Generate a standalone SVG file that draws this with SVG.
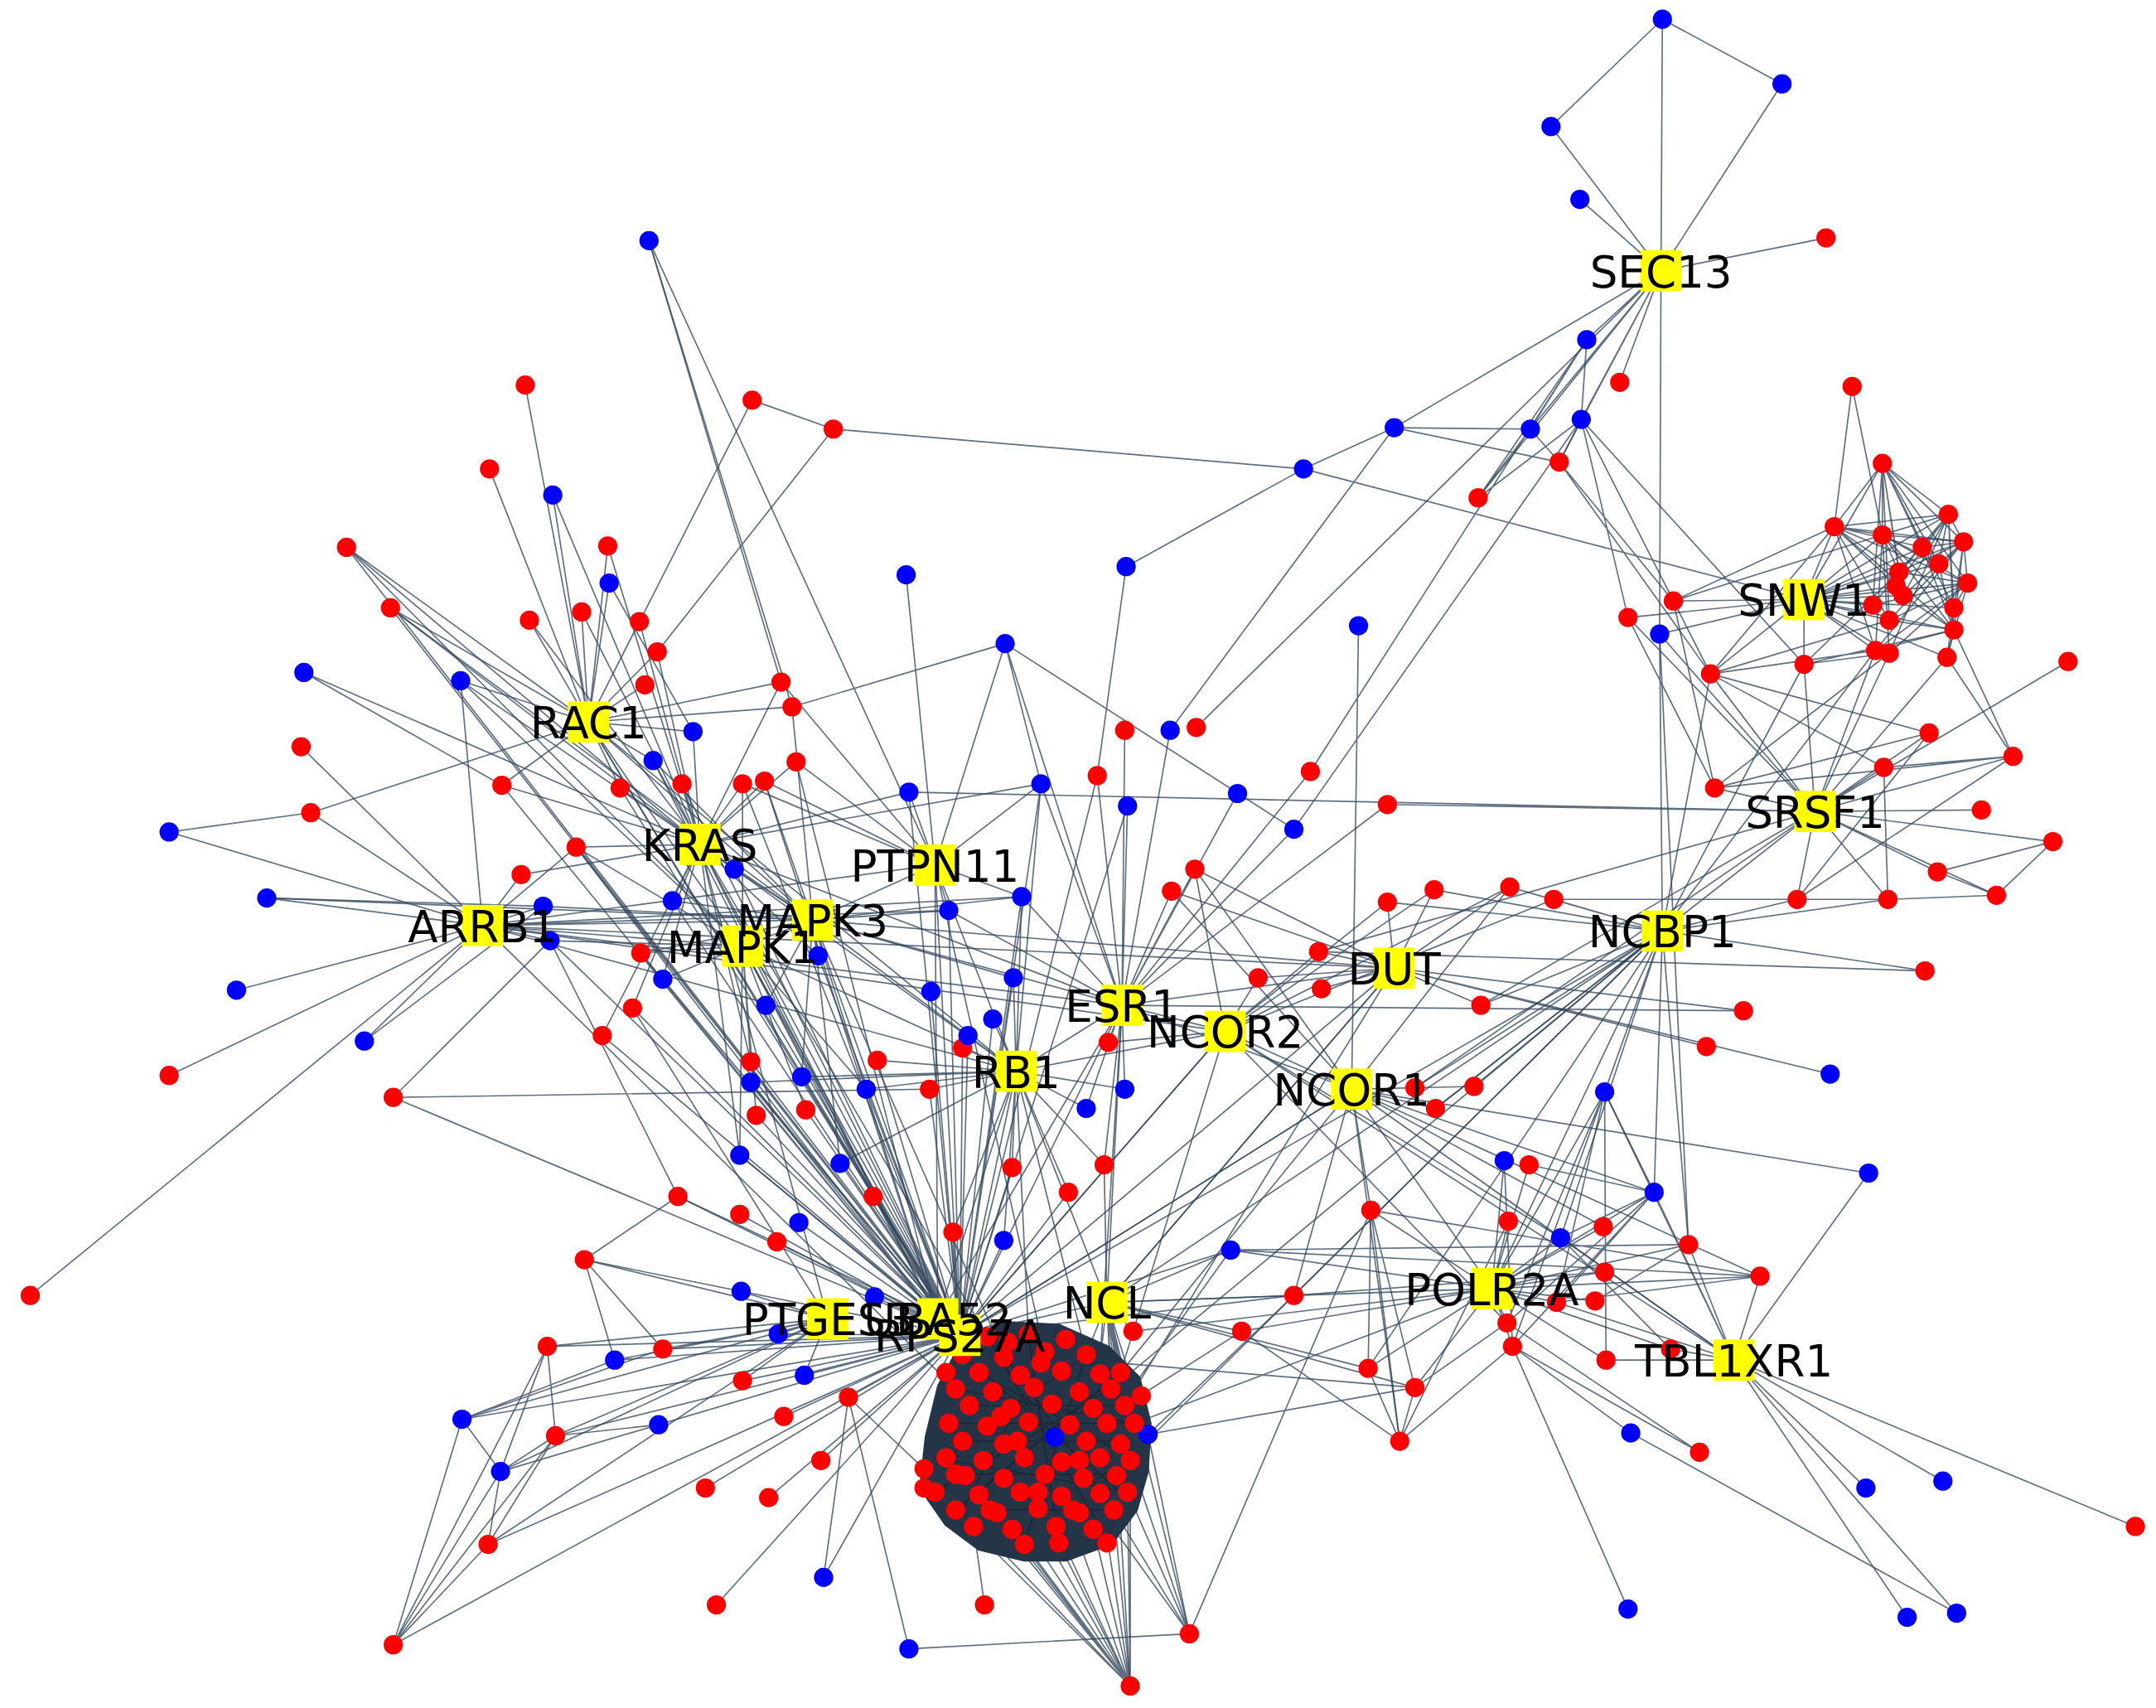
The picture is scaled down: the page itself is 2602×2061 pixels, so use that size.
<svg xmlns="http://www.w3.org/2000/svg" width="2602" height="2061" viewBox="0 0 2602 2061">
<style>
.e path{fill:none;stroke:#33475b;stroke-opacity:0.78;stroke-width:1;stroke-linejoin:round}
.r{fill:#ff0000}
.b{fill:#0000ff}
.y{fill:#ffff00}
.lb text{font-family:"DejaVu Sans","Liberation Sans",sans-serif;font-size:32px;fill:#000;text-anchor:middle}
</style>
<rect width="2602" height="2061" fill="#ffffff"/>
<g transform="scale(1.65944)">
<g id="connectors" class="e">
<path d="M1209 14L1208 197 1128 92 1208 197 1296 61 1208 197 1149 145 1208 197 1328 173 1208 197 1154 247 1208 197 1178 278 1208 197 1150 305 1208 197 1113 312 1208 197 1014 311 1208 197 1134 336 1208 197 1075 362 1208 197 1207 461 1208 197 870 529"/>
<path d="M1209 14L1128 92M1209 14L1296 61M1014 311L1113 312M1014 311L1134 336M1014 311L948 341M1014 311L851 531M1150 305L1075 362M1113 312L1075 362M1150 305L1134 336M1154 247L1150 305M1154 247L1075 362M1154 247L1113 312M1134 336L1113 312M1150 305L1184 449M1150 305L1244 490M1134 336L1217 437M1150 305L1312 483M1134 336L1244 490M1154 247L953 561M1150 305L941 603M1207 461L1228 905M948 341L606 312M948 341L819 412M948 341L1312 436M819 412L798 564M606 312L547 291M472 175L568 496M472 175L680 629M659 418L680 629M731 468L576 514M731 468L757 570M731 468L941 603M731 468L816 731M988 455L983 792M1347 281L1334 383M1347 281L1369 389"/>
<path d="M1369 337L1312 436 1334 383 1312 436 1369 389 1312 436 1417 374 1312 436 1428 394 1312 436 1381 416 1312 436 1379 426 1312 436 1384 433 1312 436 1431 424 1312 436 1421 442 1312 436 1421 458 1312 436 1374 451 1312 436 1364 473 1312 436 1374 475 1312 436 1416 478 1312 436 1398 398 1312 436 1410 410 1312 436 1362 440 1312 436 1217 437 1312 436 1184 449 1312 436 1207 461 1312 436 1244 490 1312 436 1312 483"/>
<path d="M1334 383L1369 337 1369 389 1369 337 1417 374 1369 337 1428 394 1369 337 1381 416 1369 337 1384 433 1369 337 1431 424 1369 337 1421 442 1369 337 1374 451 1369 337 1398 398 1369 337 1410 410 1369 337 1362 440"/>
<path d="M1369 389L1334 383 1417 374 1334 383 1428 394 1334 383 1381 416 1334 383 1379 426 1334 383 1431 424 1334 383 1421 458 1334 383 1374 451 1334 383 1364 473 1334 383 1398 398"/>
<path d="M1369 389L1417 374 1428 394 1417 374 1381 416 1417 374 1379 426 1417 374 1384 433 1417 374 1421 442 1417 374 1421 458 1417 374 1374 475 1417 374 1362 440 1417 374 1410 410"/>
<path d="M1369 389L1428 394 1381 416 1428 394 1384 433 1428 394 1431 424 1428 394 1421 458 1428 394 1374 451 1428 394 1364 473 1428 394 1416 478 1428 394 1398 398"/>
<path d="M1369 389L1431 424 1381 416 1431 424 1421 442 1431 424 1374 451 1431 424 1374 475 1431 424 1364 473 1431 424 1416 478 1431 424 1362 440"/>
<path d="M1369 389L1421 458 1384 433 1421 458 1374 451 1421 458 1364 473 1421 458 1416 478 1421 458 1398 398 1421 458 1410 410"/>
<path d="M1381 416L1369 389 1421 442 1369 389 1374 475 1369 389 1364 473 1369 389 1410 410"/>
<path d="M1217 437L1369 389M1217 437L1334 383M1244 490L1364 473M1244 490L1374 451M1244 490L1334 383M1312 483L1374 475M1312 483L1421 458M1312 483L1381 416M1421 458L1464 550M1416 478L1464 550M1184 449L1320 590M1207 461L1320 590M1217 437L1247 573M1244 490L1403 533M1244 490L1370 558M1374 475L1247 573M1184 449L1247 573M1207 461L1209 677"/>
<path d="M1504 481L1320 590 1403 533 1320 590 1464 550 1320 590 1370 558 1320 590 1247 573 1320 590 1441 589 1320 590 1493 612 1320 590 1409 634 1320 590 1452 651 1320 590 1373 654 1320 590 1307 654 1320 590 1244 490 1320 590 1312 483 1320 590 1364 473 1320 590 1374 475 1320 590 1416 478 1320 590 1009 585 1320 590 661 576 1320 590 1077 731 1320 590 1044 806 1320 590 959 692 1320 590 1209 677 1320 590 1029 791"/>
<path d="M1403 533L1247 573M1464 550L1370 558M1493 612L1409 634M1452 651L1409 634M1493 612L1452 651M1373 654L1452 651M1307 654L1373 654M1307 654L1130 654M1464 550L1307 654M1403 533L1307 654M1370 558L1373 654M1464 550L1247 573M1400 706L959 692"/>
<path d="M1307 654L1209 677 1373 654 1209 677 1400 706 1209 677 1130 654 1209 677 1098 645 1209 677 1167 794 1209 677 1077 731 1209 677 1044 806 1209 677 1029 791 1209 677 1072 790 1209 677 1228 905 1209 677 941 942 1209 677 995 995 1209 677 1009 656 1209 677 1043 647 1209 677 1364 473 1209 677 1312 483 1209 677 1244 490 1209 677 805 947 1209 677 1135 900 1209 677 1203 867"/>
<path d="M959 692L1014 704 915 711 1014 704 961 719 1014 704 1043 647 1014 704 1009 656 1014 704 1268 735 1014 704 1241 761 1014 704 1331 781 1014 704 1077 731 1014 704 869 632 1014 704 852 648 1014 704 1098 645 1014 704 816 731 1014 704 805 947 1014 704 698 971 1014 704 351 673"/>
<path d="M1029 791L983 792 1044 806 983 792 1072 790 983 792 997 880 983 792 1359 853 983 792 1280 928 983 792 1203 867 983 792 1135 900 983 792 1166 892 983 792 1018 1048 983 792 941 942 983 792 869 632 983 792 852 648 983 792 816 731 983 792 891 750 983 792 1261 989 983 792 698 971 983 792 1098 645"/>
<path d="M915 711L891 750 959 692 891 750 1009 656 891 750 1043 647 891 750 1098 645 891 750 1261 989 891 750 1135 900 891 750 1096 962 891 750 806 758 891 750 816 731 891 750 739 779 891 750 698 971 891 750 869 632 891 750 1130 654 891 750 351 673"/>
<path d="M757 570L816 731 820 586 816 731 851 531 816 731 818 531 816 731 798 564 816 731 869 632 816 731 852 648 816 731 806 758 816 731 818 792 816 731 790 806 816 731 803 847 816 731 739 779 816 731 900 577 816 731 941 603 816 731 953 561 816 731 351 673 816 731 591 669 816 731 509 614 816 731 698 971 816 731 805 947 816 731 743 652 816 731 690 662 816 731 1009 585 816 731 1268 735"/>
<path d="M700 762L739 779 704 753 739 779 722 741 739 779 676 792 739 779 638 771 739 779 736 849 739 779 777 867 739 779 730 902 739 779 693 896 739 779 743 652 739 779 737 711 739 779 757 570 739 779 509 614 739 779 591 669 739 779 540 688 739 779 680 629 739 779 630 792 739 779 611 846 739 779 805 947 739 779 698 971 739 779 583 783 739 779 546 787 739 779 351 673 739 779 818 792 739 779 803 847 739 779 790 806 739 779 428 525"/>
<path d="M1094 844L1085 937 1112 847 1085 937 1097 888 1085 937 1135 900 1085 937 1166 892 1085 937 1167 925 1085 937 1132 947 1085 937 1160 946 1085 937 1096 962 1085 937 1100 979 1085 937 1168 989 1085 937 1215 981 1085 937 1203 867 1085 937 997 880 1085 937 1029 1009 1085 937 995 995 1085 937 941 942 1085 937 895 909 1085 937 1280 928 1085 937 1228 905 1085 937 1167 794 1085 937 1209 677 1085 937 805 947 1085 937 983 792"/>
<path d="M1167 794L1132 947M1167 794L1096 962M1167 794L1203 867M1167 794L1168 989M1167 794L1100 979M1203 867L1100 979M1203 867L1135 900M1203 867L1132 947M1203 867L1096 962M997 880L1018 1048M997 880L995 995M997 880L1029 1009M995 995L1018 1048M1029 1009L1018 1048M1097 888L1018 1048M1100 979L1018 1048M1096 962L1029 1009M997 880L1280 928M895 909L1280 928M895 909L1228 905M941 942L1167 925M1112 847L1203 867M1094 844L1100 979M1132 947L1280 928M1135 900L1215 981M1160 946L1228 905M1100 979L1184 1170M1100 979L1236 1056M1100 979L1186 1042M1186 1042L1423 1173M1096 962L1236 1056"/>
<path d="M1357 1082L1261 989 1413 1077 1261 989 1553 1110 1261 989 1387 1176 1261 989 1423 1173 1261 989 1228 905 1261 989 1203 867 1261 989 1280 928 1261 989 1168 989 1261 989 1132 947 1261 989 1215 981 1261 989 1135 900 1261 989 1359 853 1261 989 1167 794"/>
<path d="M824 968L805 947 903 968 805 947 941 942 805 947 895 909 805 947 865 1188 805 947 835 1043 805 947 822 1226 805 947 1029 1009 805 947 995 995 805 947 803 847 805 947 815 998 805 947 818 1022 805 947 825 1035 805 947 808 1010 805 947 800 990 805 947 790 985 805 947 822 1060 805 947 820 1085 805 947 698 971 805 947 1014 704"/>
<path d="M903 968L1018 1048M941 942L1209 677M903 968L1085 937M865 1188L997 880M661 1199L865 1188M716 1167L708 1110M835 1043L1029 1009M835 1043L941 942M824 968L1085 937M835 1043L865 1188"/>
<path d="M425 916L698 971 398 979 698 971 447 989 698 971 482 981 698 971 336 1032 698 971 404 1044 698 971 364 1070 698 971 479 1036 698 971 540 1004 698 971 570 1030 698 971 585 1000 698 971 617 1016 698 971 597 1062 698 971 513 1082 698 971 559 1089 698 971 521 1167 698 971 599 1147 698 971 355 1123 698 971 286 1196 698 971 493 870 698 971 538 883 698 971 565 903 698 971 581 889 698 971 539 939 698 971 566 970 698 971 636 943 698 971 611 846 698 971 538 840 698 971 550 811 698 971 546 787 698 971 546 772 698 971 586 807 698 971 583 783 698 971 630 792 698 971 638 771 698 971 676 792 698 971 700 762 698 971 704 753 698 971 722 741 698 971 677 721 698 971 736 849 698 971 777 867 698 971 693 896 698 971 730 902 698 971 635 870"/>
<path d="M509 614L698 971 540 688 698 971 591 669 698 971 680 629 698 971 482 712 698 971 460 733 698 971 438 753 698 971 466 693 698 971 557 731 698 971 595 695 698 971 489 655 698 971 534 632 698 971 419 616 698 971 496 570 698 971 540 570 698 971 451 573 698 971 757 570 698 971 737 711 698 971 743 652 698 971 690 662 698 971 661 576 698 971 798 564 698 971 820 586 698 971 284 442 698 971 252 398 698 971 400 684 698 971 286 798 698 971 428 525 698 971 983 792 698 971 891 750 698 971 895 909 698 971 941 942 698 971 1209 677"/>
<path d="M509 614L682 959 540 688 682 959 591 669 682 959 680 629 682 959 546 787 682 959 538 840 682 959 493 870 682 959 466 693 682 959 419 616 682 959 475 553 682 959 556 568 682 959 579 554 682 959 365 571 682 959 816 731 682 959 739 779"/>
<path d="M425 916L602 959 398 979 602 959 447 989 602 959 336 1032 602 959 404 1044 602 959 482 981 602 959 539 939 602 959 566 970 602 959 585 1000 602 959 540 1004 602 959 509 614 602 959 460 733 602 959 364 1070 602 959 355 1123"/>
<path d="M336 1032L286 1196 364 1070 286 1196 355 1123 286 1196 398 979 286 1196 404 1044"/>
<path d="M355 1123L404 1044M355 1123L364 1070M364 1070L336 1032M364 1070L404 1044M398 979L404 1044M398 979L364 1070M425 916L482 981M425 916L493 870M425 916L447 989M661 1199L617 1016M599 1147L617 1016M672 1068L617 1016M447 989L336 1032M336 1032L482 981M404 1044L479 1036M493 870L400 684M286 798L400 684M286 798L676 792"/>
<path d="M382 280L428 525 356 341 428 525 402 360 428 525 442 397 428 525 443 424 428 525 385 451 428 525 423 445 428 525 465 452 428 525 478 474 428 525 469 498 428 525 568 496 428 525 547 291 428 525 335 495 428 525 252 398 428 525 284 442 428 525 504 532 428 525 475 553 428 525 226 591 428 525 365 571 428 525 451 573 428 525 576 514 428 525 591 669 428 525 540 688"/>
<path d="M252 398L509 614 284 442 509 614 335 495 509 614 385 451 509 614 423 445 509 614 442 397 509 614 465 452 509 614 478 474 509 614 504 532 509 614 475 553 509 614 540 570 509 614 556 568 509 614 496 570 509 614 451 573 509 614 579 554 509 614 661 576 509 614 419 616 509 614 365 571 509 614 534 632 509 614 489 655 509 614 595 695 509 614 546 772 509 614 482 712 509 614 402 360 509 614 221 489 509 614 379 636 509 614 568 496 509 614 538 840 509 614 460 733 509 614 438 753 509 614 757 570 509 614 591 669"/>
<path d="M123 605L351 673 194 653 351 673 172 720 351 673 123 782 351 673 265 757 351 673 22 942 351 673 395 659 351 673 400 684 351 673 379 636 351 673 219 543 351 673 335 495 351 673 419 616 351 673 591 669 351 673 540 688 351 673 690 662 351 673 743 652 351 673 680 629 351 673 226 591"/>
<path d="M194 653L591 669 395 659 591 669 475 553 591 669 556 568 591 669 576 514 591 669 489 655 591 669 534 632 591 669 466 693 591 669 557 731 591 669 595 695 591 669 583 783 591 669 611 846 591 669 284 442 591 669 680 629 591 669 690 662 591 669 743 652 591 669 737 711 591 669 1014 704 591 669 540 688"/>
<path d="M252 398L540 688 335 495 540 688 419 616 540 688 400 684 540 688 466 693 540 688 482 712 540 688 546 772 540 688 586 807 540 688 538 840 540 688 540 570 540 688 630 792 540 688 550 811"/>
<path d="M661 576L680 629 690 662 680 629 743 652 680 629 757 570 680 629 540 570 680 629 579 554 680 629 568 496 680 629 556 568 680 629 731 468"/>
<path d="M606 312L478 474M123 605L226 591M221 489L365 571M265 757L395 659M194 653L395 659M443 424L504 532M472 175L576 514"/>
<path d="M700 1098L822 1226 725 1098 822 1226 745 1110 822 1226 770 1122 822 1226 795 1110 822 1226 810 1098 822 1226 820 1085 822 1226 800 1085 822 1226 772 1085 822 1226 742 1085 822 1226 712 1085 822 1226 680 1085 822 1226 688 1060 822 1226 822 1060 822 1226 768 1110 822 1226 736 1110"/>
<path d="M820 1085L865 1188 800 1098 865 1188 822 1060 865 1188 810 1098"/>
<path d="M815 998L983 792M818 1022L1014 704M808 1010L1209 677M825 1035L1085 937M805 1035L895 909M822 1060L941 942M815 998L891 750M800 990L816 731M790 985L739 779M760 985L680 629M730 985L591 669M718 972L509 614M748 972L739 779M700 985L540 688M712 998L428 525M695 1010L351 673M800 990L1029 1009M818 1022L903 968M718 972L698 971M700 985L682 959"/>
</g>
<g id="cluster-core">
<polygon points="700,976 730,962 770,964 806,980 828,1002 836,1035 834,1070 826,1098 808,1122 775,1134 745,1134 712,1126 688,1108 670,1082 674,1045 683,1008" fill="#243548" stroke="#243548" stroke-width="3" stroke-linejoin="round"/>
<path d="M700 985L815 1085M718 972L800 1110M760 985L700 1098M790 985L688 1060M815 998L712 1085M808 1010L680 1085M825 1035L695 1010M822 1060L712 998M810 1098L730 985M770 1122L748 972M745 1122L790 985M695 1098L815 998M688 1035L825 1035M680 1060L820 1085M705 1022L818 1022M700 1048L815 1048M702 1072L812 1072M712 1098L810 1098" fill="none" stroke="#1a2836" stroke-width="0.9"/>
</g>
<g id="nodes">
<g id="n1"><circle class="b" cx="1209" cy="14" r="7"/></g>
<g id="n2"><circle class="b" cx="1296" cy="61" r="7"/></g>
<g id="n3"><circle class="b" cx="1128" cy="92" r="7"/></g>
<g id="n4"><circle class="b" cx="1149" cy="145" r="7"/></g>
<g id="n5"><circle class="r" cx="1328" cy="173" r="7"/></g>
<g id="n6"><circle class="b" cx="1154" cy="247" r="7"/></g>
<g id="n7"><circle class="r" cx="1178" cy="278" r="7"/></g>
<g id="n8"><circle class="r" cx="1347" cy="281" r="7"/></g>
<g id="n9"><circle class="b" cx="1014" cy="311" r="7"/></g>
<g id="n10"><circle class="b" cx="1113" cy="312" r="7"/></g>
<g id="n11"><circle class="b" cx="1150" cy="305" r="7"/></g>
<g id="n12"><circle class="r" cx="1134" cy="336" r="7"/></g>
<g id="n13"><circle class="r" cx="1075" cy="362" r="7"/></g>
<g id="n14"><circle class="b" cx="948" cy="341" r="7"/></g>
<g id="n15"><circle class="r" cx="1369" cy="337" r="7"/></g>
<g id="n16"><circle class="r" cx="1334" cy="383" r="7"/></g>
<g id="n17"><circle class="r" cx="1369" cy="389" r="7"/></g>
<g id="n18"><circle class="r" cx="1417" cy="374" r="7"/></g>
<g id="n19"><circle class="r" cx="1428" cy="394" r="7"/></g>
<g id="n20"><circle class="r" cx="1381" cy="416" r="7"/></g>
<g id="n21"><circle class="r" cx="1379" cy="426" r="7"/></g>
<g id="n22"><circle class="r" cx="1384" cy="433" r="7"/></g>
<g id="n23"><circle class="r" cx="1431" cy="424" r="7"/></g>
<g id="n24"><circle class="r" cx="1421" cy="442" r="7"/></g>
<g id="n25"><circle class="r" cx="1421" cy="458" r="7"/></g>
<g id="n26"><circle class="r" cx="1374" cy="451" r="7"/></g>
<g id="n27"><circle class="r" cx="1364" cy="473" r="7"/></g>
<g id="n28"><circle class="r" cx="1374" cy="475" r="7"/></g>
<g id="n29"><circle class="r" cx="1416" cy="478" r="7"/></g>
<g id="n30"><circle class="r" cx="1398" cy="398" r="7"/></g>
<g id="n31"><circle class="r" cx="1410" cy="410" r="7"/></g>
<g id="n32"><circle class="r" cx="1362" cy="440" r="7"/></g>
<g id="n33"><circle class="r" cx="1312" cy="483" r="7"/></g>
<g id="n34"><circle class="r" cx="1244" cy="490" r="7"/></g>
<g id="n35"><circle class="r" cx="1217" cy="437" r="7"/></g>
<g id="n36"><circle class="r" cx="1184" cy="449" r="7"/></g>
<g id="n37"><circle class="b" cx="1207" cy="461" r="7"/></g>
<g id="n38"><circle class="r" cx="1504" cy="481" r="7"/></g>
<g id="n39"><circle class="b" cx="988" cy="455" r="7"/></g>
<g id="n40"><circle class="b" cx="819" cy="412" r="7"/></g>
<g id="n41"><circle class="b" cx="731" cy="468" r="7"/></g>
<g id="n42"><circle class="b" cx="659" cy="418" r="7"/></g>
<g id="n43"><circle class="r" cx="818" cy="531" r="7"/></g>
<g id="n44"><circle class="b" cx="851" cy="531" r="7"/></g>
<g id="n45"><circle class="r" cx="870" cy="529" r="7"/></g>
<g id="n46"><circle class="r" cx="798" cy="564" r="7"/></g>
<g id="n47"><circle class="b" cx="820" cy="586" r="7"/></g>
<g id="n48"><circle class="b" cx="900" cy="577" r="7"/></g>
<g id="n49"><circle class="b" cx="941" cy="603" r="7"/></g>
<g id="n50"><circle class="r" cx="953" cy="561" r="7"/></g>
<g id="n51"><circle class="r" cx="1009" cy="585" r="7"/></g>
<g id="n52"><circle class="r" cx="1403" cy="533" r="7"/></g>
<g id="n53"><circle class="r" cx="1464" cy="550" r="7"/></g>
<g id="n54"><circle class="r" cx="1370" cy="558" r="7"/></g>
<g id="n55"><circle class="r" cx="1247" cy="573" r="7"/></g>
<g id="n56"><circle class="r" cx="1441" cy="589" r="7"/></g>
<g id="n57"><circle class="r" cx="1493" cy="612" r="7"/></g>
<g id="n58"><circle class="r" cx="1409" cy="634" r="7"/></g>
<g id="n59"><circle class="r" cx="1452" cy="651" r="7"/></g>
<g id="n60"><circle class="r" cx="1373" cy="654" r="7"/></g>
<g id="n61"><circle class="r" cx="1307" cy="654" r="7"/></g>
<g id="n62"><circle class="r" cx="1400" cy="706" r="7"/></g>
<g id="n63"><circle class="r" cx="1268" cy="735" r="7"/></g>
<g id="n64"><circle class="r" cx="1241" cy="761" r="7"/></g>
<g id="n65"><circle class="b" cx="1331" cy="781" r="7"/></g>
<g id="n66"><circle class="b" cx="1359" cy="853" r="7"/></g>
<g id="n67"><circle class="r" cx="1130" cy="654" r="7"/></g>
<g id="n68"><circle class="r" cx="1098" cy="645" r="7"/></g>
<g id="n69"><circle class="r" cx="1043" cy="647" r="7"/></g>
<g id="n70"><circle class="r" cx="1009" cy="656" r="7"/></g>
<g id="n71"><circle class="r" cx="959" cy="692" r="7"/></g>
<g id="n72"><circle class="r" cx="915" cy="711" r="7"/></g>
<g id="n73"><circle class="r" cx="961" cy="719" r="7"/></g>
<g id="n74"><circle class="r" cx="1077" cy="731" r="7"/></g>
<g id="n75"><circle class="r" cx="869" cy="632" r="7"/></g>
<g id="n76"><circle class="r" cx="852" cy="648" r="7"/></g>
<g id="n77"><circle class="r" cx="1029" cy="791" r="7"/></g>
<g id="n78"><circle class="r" cx="1044" cy="806" r="7"/></g>
<g id="n79"><circle class="r" cx="1072" cy="790" r="7"/></g>
<g id="n80"><circle class="b" cx="1167" cy="794" r="7"/></g>
<g id="n81"><circle class="r" cx="806" cy="758" r="7"/></g>
<g id="n82"><circle class="b" cx="818" cy="792" r="7"/></g>
<g id="n83"><circle class="b" cx="790" cy="806" r="7"/></g>
<g id="n84"><circle class="r" cx="803" cy="847" r="7"/></g>
<g id="n85"><circle class="b" cx="1094" cy="844" r="7"/></g>
<g id="n86"><circle class="r" cx="1112" cy="847" r="7"/></g>
<g id="n87"><circle class="b" cx="1203" cy="867" r="7"/></g>
<g id="n88"><circle class="r" cx="997" cy="880" r="7"/></g>
<g id="n89"><circle class="r" cx="1097" cy="888" r="7"/></g>
<g id="n90"><circle class="b" cx="1135" cy="900" r="7"/></g>
<g id="n91"><circle class="r" cx="1166" cy="892" r="7"/></g>
<g id="n92"><circle class="r" cx="1228" cy="905" r="7"/></g>
<g id="n93"><circle class="r" cx="1280" cy="928" r="7"/></g>
<g id="n94"><circle class="r" cx="1167" cy="925" r="7"/></g>
<g id="n95"><circle class="b" cx="895" cy="909" r="7"/></g>
<g id="n96"><circle class="r" cx="941" cy="942" r="7"/></g>
<g id="n97"><circle class="r" cx="1132" cy="947" r="7"/></g>
<g id="n98"><circle class="r" cx="1160" cy="946" r="7"/></g>
<g id="n99"><circle class="r" cx="1096" cy="962" r="7"/></g>
<g id="n100"><circle class="r" cx="1100" cy="979" r="7"/></g>
<g id="n101"><circle class="r" cx="1215" cy="981" r="7"/></g>
<g id="n102"><circle class="r" cx="1168" cy="989" r="7"/></g>
<g id="n103"><circle class="r" cx="824" cy="968" r="7"/></g>
<g id="n104"><circle class="r" cx="903" cy="968" r="7"/></g>
<g id="n105"><circle class="r" cx="995" cy="995" r="7"/></g>
<g id="n106"><circle class="r" cx="1029" cy="1009" r="7"/></g>
<g id="n107"><circle class="r" cx="1018" cy="1048" r="7"/></g>
<g id="n108"><circle class="b" cx="835" cy="1043" r="7"/></g>
<g id="n109"><circle class="b" cx="1186" cy="1042" r="7"/></g>
<g id="n110"><circle class="r" cx="1236" cy="1056" r="7"/></g>
<g id="n111"><circle class="b" cx="1357" cy="1082" r="7"/></g>
<g id="n112"><circle class="b" cx="1413" cy="1077" r="7"/></g>
<g id="n113"><circle class="r" cx="1553" cy="1110" r="7"/></g>
<g id="n114"><circle class="b" cx="1184" cy="1170" r="7"/></g>
<g id="n115"><circle class="b" cx="1387" cy="1176" r="7"/></g>
<g id="n116"><circle class="b" cx="1423" cy="1173" r="7"/></g>
<g id="n117"><circle class="r" cx="865" cy="1188" r="7"/></g>
<g id="n118"><circle class="r" cx="822" cy="1226" r="7"/></g>
<g id="n119"><circle class="b" cx="472" cy="175" r="7"/></g>
<g id="n120"><circle class="r" cx="382" cy="280" r="7"/></g>
<g id="n121"><circle class="r" cx="547" cy="291" r="7"/></g>
<g id="n122"><circle class="r" cx="606" cy="312" r="7"/></g>
<g id="n123"><circle class="r" cx="356" cy="341" r="7"/></g>
<g id="n124"><circle class="b" cx="402" cy="360" r="7"/></g>
<g id="n125"><circle class="r" cx="252" cy="398" r="7"/></g>
<g id="n126"><circle class="r" cx="442" cy="397" r="7"/></g>
<g id="n127"><circle class="b" cx="443" cy="424" r="7"/></g>
<g id="n128"><circle class="r" cx="284" cy="442" r="7"/></g>
<g id="n129"><circle class="r" cx="385" cy="451" r="7"/></g>
<g id="n130"><circle class="r" cx="423" cy="445" r="7"/></g>
<g id="n131"><circle class="r" cx="465" cy="452" r="7"/></g>
<g id="n132"><circle class="r" cx="478" cy="474" r="7"/></g>
<g id="n133"><circle class="b" cx="221" cy="489" r="7"/></g>
<g id="n134"><circle class="b" cx="335" cy="495" r="7"/></g>
<g id="n135"><circle class="r" cx="469" cy="498" r="7"/></g>
<g id="n136"><circle class="r" cx="568" cy="496" r="7"/></g>
<g id="n137"><circle class="r" cx="576" cy="514" r="7"/></g>
<g id="n138"><circle class="b" cx="504" cy="532" r="7"/></g>
<g id="n139"><circle class="r" cx="219" cy="543" r="7"/></g>
<g id="n140"><circle class="b" cx="475" cy="553" r="7"/></g>
<g id="n141"><circle class="r" cx="365" cy="571" r="7"/></g>
<g id="n142"><circle class="r" cx="451" cy="573" r="7"/></g>
<g id="n143"><circle class="r" cx="496" cy="570" r="7"/></g>
<g id="n144"><circle class="r" cx="540" cy="570" r="7"/></g>
<g id="n145"><circle class="r" cx="556" cy="568" r="7"/></g>
<g id="n146"><circle class="r" cx="579" cy="554" r="7"/></g>
<g id="n147"><circle class="b" cx="661" cy="576" r="7"/></g>
<g id="n148"><circle class="b" cx="757" cy="570" r="7"/></g>
<g id="n149"><circle class="r" cx="226" cy="591" r="7"/></g>
<g id="n150"><circle class="b" cx="123" cy="605" r="7"/></g>
<g id="n151"><circle class="r" cx="419" cy="616" r="7"/></g>
<g id="n152"><circle class="r" cx="379" cy="636" r="7"/></g>
<g id="n153"><circle class="b" cx="194" cy="653" r="7"/></g>
<g id="n154"><circle class="b" cx="395" cy="659" r="7"/></g>
<g id="n155"><circle class="b" cx="400" cy="684" r="7"/></g>
<g id="n156"><circle class="b" cx="489" cy="655" r="7"/></g>
<g id="n157"><circle class="b" cx="534" cy="632" r="7"/></g>
<g id="n158"><circle class="r" cx="466" cy="693" r="7"/></g>
<g id="n159"><circle class="b" cx="595" cy="695" r="7"/></g>
<g id="n160"><circle class="b" cx="482" cy="712" r="7"/></g>
<g id="n161"><circle class="b" cx="172" cy="720" r="7"/></g>
<g id="n162"><circle class="r" cx="460" cy="733" r="7"/></g>
<g id="n163"><circle class="b" cx="557" cy="731" r="7"/></g>
<g id="n164"><circle class="r" cx="438" cy="753" r="7"/></g>
<g id="n165"><circle class="b" cx="265" cy="757" r="7"/></g>
<g id="n166"><circle class="r" cx="123" cy="782" r="7"/></g>
<g id="n167"><circle class="r" cx="286" cy="798" r="7"/></g>
<g id="n168"><circle class="r" cx="546" cy="772" r="7"/></g>
<g id="n169"><circle class="b" cx="546" cy="787" r="7"/></g>
<g id="n170"><circle class="b" cx="583" cy="783" r="7"/></g>
<g id="n171"><circle class="r" cx="550" cy="811" r="7"/></g>
<g id="n172"><circle class="r" cx="586" cy="807" r="7"/></g>
<g id="n173"><circle class="b" cx="630" cy="792" r="7"/></g>
<g id="n174"><circle class="r" cx="676" cy="792" r="7"/></g>
<g id="n175"><circle class="r" cx="638" cy="771" r="7"/></g>
<g id="n176"><circle class="r" cx="700" cy="762" r="7"/></g>
<g id="n177"><circle class="b" cx="704" cy="753" r="7"/></g>
<g id="n178"><circle class="b" cx="722" cy="741" r="7"/></g>
<g id="n179"><circle class="b" cx="677" cy="721" r="7"/></g>
<g id="n180"><circle class="b" cx="690" cy="662" r="7"/></g>
<g id="n181"><circle class="b" cx="743" cy="652" r="7"/></g>
<g id="n182"><circle class="b" cx="737" cy="711" r="7"/></g>
<g id="n183"><circle class="r" cx="736" cy="849" r="7"/></g>
<g id="n184"><circle class="r" cx="777" cy="867" r="7"/></g>
<g id="n185"><circle class="b" cx="538" cy="840" r="7"/></g>
<g id="n186"><circle class="b" cx="611" cy="846" r="7"/></g>
<g id="n187"><circle class="r" cx="493" cy="870" r="7"/></g>
<g id="n188"><circle class="r" cx="538" cy="883" r="7"/></g>
<g id="n189"><circle class="b" cx="581" cy="889" r="7"/></g>
<g id="n190"><circle class="r" cx="565" cy="903" r="7"/></g>
<g id="n191"><circle class="r" cx="635" cy="870" r="7"/></g>
<g id="n192"><circle class="r" cx="693" cy="896" r="7"/></g>
<g id="n193"><circle class="b" cx="730" cy="902" r="7"/></g>
<g id="n194"><circle class="r" cx="425" cy="916" r="7"/></g>
<g id="n195"><circle class="b" cx="539" cy="939" r="7"/></g>
<g id="n196"><circle class="b" cx="636" cy="943" r="7"/></g>
<g id="n197"><circle class="b" cx="566" cy="970" r="7"/></g>
<g id="n198"><circle class="r" cx="398" cy="979" r="7"/></g>
<g id="n199"><circle class="b" cx="447" cy="989" r="7"/></g>
<g id="n200"><circle class="r" cx="482" cy="981" r="7"/></g>
<g id="n201"><circle class="b" cx="585" cy="1000" r="7"/></g>
<g id="n202"><circle class="r" cx="540" cy="1004" r="7"/></g>
<g id="n203"><circle class="r" cx="617" cy="1016" r="7"/></g>
<g id="n204"><circle class="b" cx="336" cy="1032" r="7"/></g>
<g id="n205"><circle class="r" cx="570" cy="1030" r="7"/></g>
<g id="n206"><circle class="b" cx="479" cy="1036" r="7"/></g>
<g id="n207"><circle class="r" cx="404" cy="1044" r="7"/></g>
<g id="n208"><circle class="b" cx="364" cy="1070" r="7"/></g>
<g id="n209"><circle class="r" cx="597" cy="1062" r="7"/></g>
<g id="n210"><circle class="r" cx="513" cy="1082" r="7"/></g>
<g id="n211"><circle class="r" cx="559" cy="1089" r="7"/></g>
<g id="n212"><circle class="r" cx="672" cy="1068" r="7"/></g>
<g id="n213"><circle class="r" cx="355" cy="1123" r="7"/></g>
<g id="n214"><circle class="b" cx="599" cy="1147" r="7"/></g>
<g id="n215"><circle class="r" cx="521" cy="1167" r="7"/></g>
<g id="n216"><circle class="r" cx="716" cy="1167" r="7"/></g>
<g id="n217"><circle class="r" cx="286" cy="1196" r="7"/></g>
<g id="n218"><circle class="b" cx="661" cy="1199" r="7"/></g>
<g id="n219"><circle class="r" cx="22" cy="942" r="7"/></g>
<g id="n220"><circle class="r" cx="718" cy="972" r="7"/></g>
<g id="n221"><circle class="r" cx="748" cy="970" r="7"/></g>
<g id="n222"><circle class="r" cx="700" cy="985" r="7"/></g>
<g id="n223"><circle class="r" cx="730" cy="987" r="7"/></g>
<g id="n224"><circle class="r" cx="760" cy="983" r="7"/></g>
<g id="n225"><circle class="r" cx="790" cy="985" r="7"/></g>
<g id="n226"><circle class="r" cx="712" cy="998" r="7"/></g>
<g id="n227"><circle class="r" cx="742" cy="1000" r="7"/></g>
<g id="n228"><circle class="r" cx="772" cy="997" r="7"/></g>
<g id="n229"><circle class="r" cx="800" cy="999" r="7"/></g>
<g id="n230"><circle class="r" cx="815" cy="998" r="7"/></g>
<g id="n231"><circle class="r" cx="695" cy="1010" r="7"/></g>
<g id="n232"><circle class="r" cx="722" cy="1012" r="7"/></g>
<g id="n233"><circle class="r" cx="752" cy="1009" r="7"/></g>
<g id="n234"><circle class="r" cx="785" cy="1012" r="7"/></g>
<g id="n235"><circle class="r" cx="808" cy="1010" r="7"/></g>
<g id="n236"><circle class="r" cx="705" cy="1022" r="7"/></g>
<g id="n237"><circle class="r" cx="735" cy="1024" r="7"/></g>
<g id="n238"><circle class="r" cx="765" cy="1021" r="7"/></g>
<g id="n239"><circle class="r" cx="795" cy="1024" r="7"/></g>
<g id="n240"><circle class="r" cx="818" cy="1022" r="7"/></g>
<g id="n241"><circle class="r" cx="690" cy="1035" r="7"/></g>
<g id="n242"><circle class="r" cx="718" cy="1037" r="7"/></g>
<g id="n243"><circle class="r" cx="748" cy="1034" r="7"/></g>
<g id="n244"><circle class="r" cx="778" cy="1036" r="7"/></g>
<g id="n245"><circle class="r" cx="805" cy="1035" r="7"/></g>
<g id="n246"><circle class="r" cx="825" cy="1035" r="7"/></g>
<g id="n247"><circle class="r" cx="700" cy="1048" r="7"/></g>
<g id="n248"><circle class="r" cx="730" cy="1050" r="7"/></g>
<g id="n249"><circle class="r" cx="790" cy="1048" r="7"/></g>
<g id="n250"><circle class="r" cx="815" cy="1050" r="7"/></g>
<g id="n251"><circle class="r" cx="688" cy="1060" r="7"/></g>
<g id="n252"><circle class="r" cx="715" cy="1062" r="7"/></g>
<g id="n253"><circle class="r" cx="745" cy="1060" r="7"/></g>
<g id="n254"><circle class="r" cx="772" cy="1063" r="7"/></g>
<g id="n255"><circle class="r" cx="800" cy="1060" r="7"/></g>
<g id="n256"><circle class="r" cx="822" cy="1062" r="7"/></g>
<g id="n257"><circle class="r" cx="702" cy="1073" r="7"/></g>
<g id="n258"><circle class="r" cx="730" cy="1075" r="7"/></g>
<g id="n259"><circle class="r" cx="760" cy="1072" r="7"/></g>
<g id="n260"><circle class="r" cx="788" cy="1075" r="7"/></g>
<g id="n261"><circle class="r" cx="812" cy="1073" r="7"/></g>
<g id="n262"><circle class="r" cx="680" cy="1085" r="7"/></g>
<g id="n263"><circle class="r" cx="712" cy="1087" r="7"/></g>
<g id="n264"><circle class="r" cx="742" cy="1085" r="7"/></g>
<g id="n265"><circle class="r" cx="772" cy="1088" r="7"/></g>
<g id="n266"><circle class="r" cx="800" cy="1086" r="7"/></g>
<g id="n267"><circle class="r" cx="820" cy="1085" r="7"/></g>
<g id="n268"><circle class="r" cx="695" cy="1098" r="7"/></g>
<g id="n269"><circle class="r" cx="725" cy="1100" r="7"/></g>
<g id="n270"><circle class="r" cx="755" cy="1097" r="7"/></g>
<g id="n271"><circle class="r" cx="785" cy="1100" r="7"/></g>
<g id="n272"><circle class="r" cx="810" cy="1098" r="7"/></g>
<g id="n273"><circle class="r" cx="708" cy="1110" r="7"/></g>
<g id="n274"><circle class="r" cx="736" cy="1112" r="7"/></g>
<g id="n275"><circle class="r" cx="768" cy="1110" r="7"/></g>
<g id="n276"><circle class="r" cx="795" cy="1112" r="7"/></g>
<g id="n277"><circle class="r" cx="745" cy="1123" r="7"/></g>
<g id="n278"><circle class="r" cx="770" cy="1122" r="7"/></g>
<g id="n280"><circle class="r" cx="733" cy="976" r="7"/></g>
<g id="n281"><circle class="r" cx="775" cy="974" r="7"/></g>
<g id="n282"><circle class="r" cx="688" cy="998" r="7"/></g>
<g id="n283"><circle class="r" cx="757" cy="991" r="7"/></g>
<g id="n284"><circle class="r" cx="728" cy="1030" r="7"/></g>
<g id="n285"><circle class="r" cx="740" cy="1048" r="7"/></g>
<g id="n286"><circle class="r" cx="695" cy="1072" r="7"/></g>
<g id="n287"><circle class="r" cx="755" cy="1085" r="7"/></g>
<g id="n288"><circle class="r" cx="785" cy="1062" r="7"/></g>
<g id="n289"><circle class="r" cx="720" cy="1098" r="7"/></g>
<g id="n290"><circle class="r" cx="780" cy="1098" r="7"/></g>
<g id="n291"><circle class="r" cx="830" cy="1015" r="7"/></g>
<g id="n292"><circle class="r" cx="672" cy="1082" r="7"/></g>
<g id="n293"><circle class="r" cx="805" cy="1122" r="7"/></g>
<g id="n279"><circle class="b" cx="767" cy="1045" r="7"/></g>
</g>
<g id="hubs">
<g id="SEC13"><rect class="y" x="1193" y="182" width="30" height="30"/></g>
<g id="SNW1"><rect class="y" x="1297" y="421" width="30" height="30"/></g>
<g id="SRSF1"><rect class="y" x="1305" y="575" width="30" height="30"/></g>
<g id="NCBP1"><rect class="y" x="1194" y="662" width="30" height="30"/></g>
<g id="RAC1"><rect class="y" x="413" y="510" width="30" height="30"/></g>
<g id="KRAS"><rect class="y" x="494" y="599" width="30" height="30"/></g>
<g id="PTPN11"><rect class="y" x="665" y="614" width="30" height="30"/></g>
<g id="ARRB1"><rect class="y" x="336" y="658" width="30" height="30"/></g>
<g id="MAPK3"><rect class="y" x="576" y="654" width="30" height="30"/></g>
<g id="MAPK1"><rect class="y" x="525" y="673" width="30" height="30"/></g>
<g id="RB1"><rect class="y" x="724" y="764" width="30" height="30"/></g>
<g id="ESR1"><rect class="y" x="801" y="716" width="30" height="30"/></g>
<g id="NCOR2"><rect class="y" x="876" y="735" width="30" height="30"/></g>
<g id="DUT"><rect class="y" x="999" y="689" width="30" height="30"/></g>
<g id="NCOR1"><rect class="y" x="968" y="777" width="30" height="30"/></g>
<g id="NCL"><rect class="y" x="790" y="932" width="30" height="30"/></g>
<g id="POLR2A"><rect class="y" x="1070" y="922" width="30" height="30"/></g>
<g id="TBL1XR1"><rect class="y" x="1246" y="974" width="30" height="30"/></g>
<g id="PTGES3"><rect class="y" x="587" y="944" width="30" height="30"/></g>
<g id="UBA52"><rect class="y" x="667" y="944" width="30" height="30"/></g>
<g id="RPS27A"><rect class="y" x="683" y="956" width="30" height="30"/></g>
</g>
<g id="labels" class="lb">
<text x="1208" y="209">SEC13</text>
<text x="1312" y="448">SNW1</text>
<text x="1320" y="602">SRSF1</text>
<text x="1209" y="689">NCBP1</text>
<text x="428" y="537">RAC1</text>
<text x="509" y="626">KRAS</text>
<text x="680" y="641">PTPN11</text>
<text x="351" y="685">ARRB1</text>
<text x="591" y="681">MAPK3</text>
<text x="540" y="700">MAPK1</text>
<text x="739" y="791">RB1</text>
<text x="816" y="743">ESR1</text>
<text x="891" y="762">NCOR2</text>
<text x="1014" y="716">DUT</text>
<text x="983" y="804">NCOR1</text>
<text x="805" y="959">NCL</text>
<text x="1085" y="949">POLR2A</text>
<text x="1261" y="1001">TBL1XR1</text>
<text x="602" y="971">PTGES3</text>
<text x="682" y="971">UBA52</text>
<text x="698" y="983">RPS27A</text>
</g>
</g>
</svg>
